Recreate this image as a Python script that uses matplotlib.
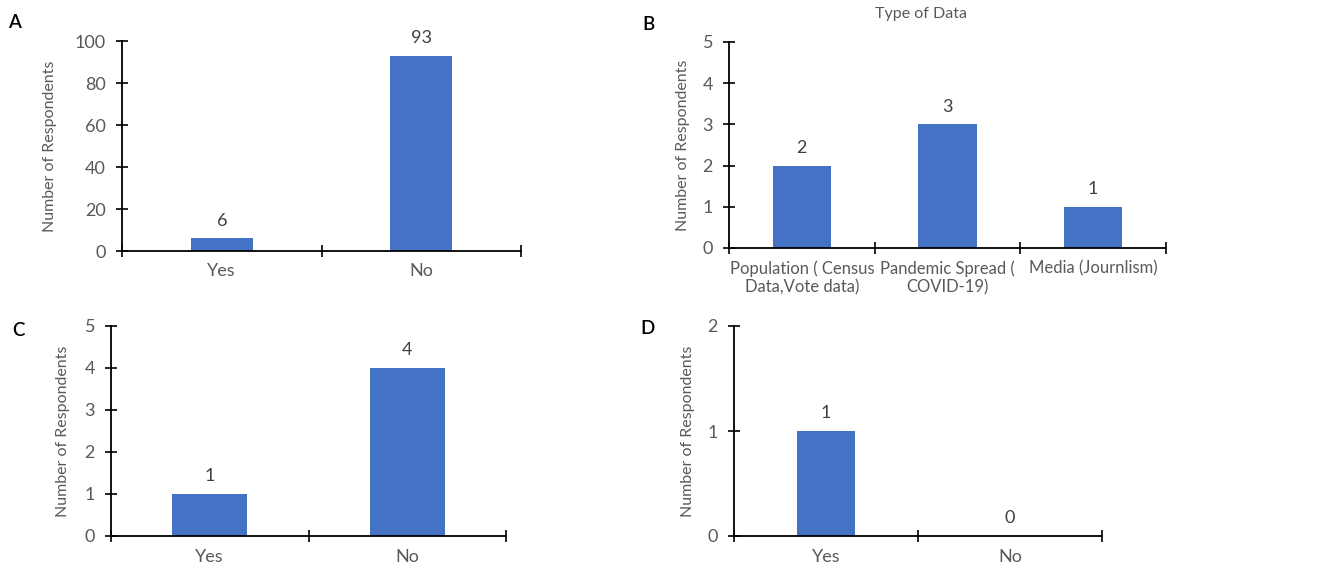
import matplotlib.pyplot as plt

# Panel data
a_labels = ['Yes', 'No']
a_values = [6, 93]

b_labels = ['Population ( Census\nData,Vote data)', 'Pandemic Spread (\nCOVID-19)', 'Media (Journlism)']
b_values = [2, 3, 1]

c_labels = ['Yes', 'No']
c_values = [1, 4]

d_labels = ['Yes', 'No']
d_values = [1, 0]

BAR_COLOR = '#4472C4'
GRAY = '#595959'
DARK = '#404040'
W, H = 1325, 567

plt.rcParams['font.family'] = ['Lato', 'DejaVu Sans']


def px_axes(fig, x0, y0, x1, y1):
    # pixel box (top-left origin) -> figure fraction axes
    return fig.add_axes([x0 / W, 1 - y1 / H, (x1 - x0) / W, (y1 - y0) / H])


def bar_panel(ax, labels, values, ymax, ystep, width, ylab_dx, xfs=13):
    n = len(values)
    xs = list(range(n))
    ax.bar(xs, values, width=width, color=BAR_COLOR, zorder=2)
    ax.set_xlim(-0.5, n - 0.5)
    ax.set_ylim(0, ymax)
    ax.set_yticks([v * ystep for v in range(int(ymax / ystep) + 1)])
    for sp in ('top', 'right'):
        ax.spines[sp].set_visible(False)
    for sp in ('left', 'bottom'):
        ax.spines[sp].set_linewidth(1.3)
        ax.spines[sp].set_color('black')
        ax.spines[sp].set_zorder(3)
    ax.set_xticks([i - 0.5 for i in range(n + 1)])
    ax.set_xticklabels([])
    ax.set_xticks(xs, minor=True)
    ax.set_xticklabels(labels, minor=True, fontsize=xfs, color=GRAY)
    ax.tick_params(axis='x', which='major', direction='inout', length=9, width=1.2)
    ax.tick_params(axis='x', which='minor', length=0, pad=9)
    ax.tick_params(axis='y', direction='inout', length=9, width=1.2, pad=7,
                   labelsize=13, labelcolor=GRAY)
    ax.set_ylabel('Number of Respondents', fontsize=11.5, color=GRAY)
    bbox = ax.get_position()
    ax.yaxis.set_label_coords(-ylab_dx / (bbox.width * W), 0.5)
    for x, v in zip(xs, values):
        ax.annotate(str(v), (x, v), xytext=(0, 7), textcoords='offset points',
                    ha='center', va='bottom', fontsize=13, color=DARK)


fig = plt.figure(figsize=(13.25, 5.67), dpi=100)

ax_a = px_axes(fig, 122, 41, 521, 251)
bar_panel(ax_a, a_labels, a_values, 100, 20, 0.31, 65)

ax_b = px_axes(fig, 729, 42, 1166, 248)
bar_panel(ax_b, b_labels, b_values, 5, 1, 0.4, 39, xfs=12)
fig.text(921 / W, 1 - 14 / H, 'Type of Data', ha='center', va='center',
         fontsize=11.5, color=GRAY)

ax_c = px_axes(fig, 111, 326, 506, 536)
bar_panel(ax_c, c_labels, c_values, 5, 1, 0.38, 41)

ax_d = px_axes(fig, 734, 326, 1102, 536)
bar_panel(ax_d, d_labels, d_values, 2, 1, 0.31, 39)

for lbl, x, y in [('A', 14, 22), ('B', 648, 24), ('C', 18, 330), ('D', 648, 328)]:
    fig.text(x / W, 1 - y / H, lbl, ha='center', va='center', fontsize=13.5,
             fontweight='semibold', color='black')

fig.savefig('out.png', dpi=100, facecolor='white')
